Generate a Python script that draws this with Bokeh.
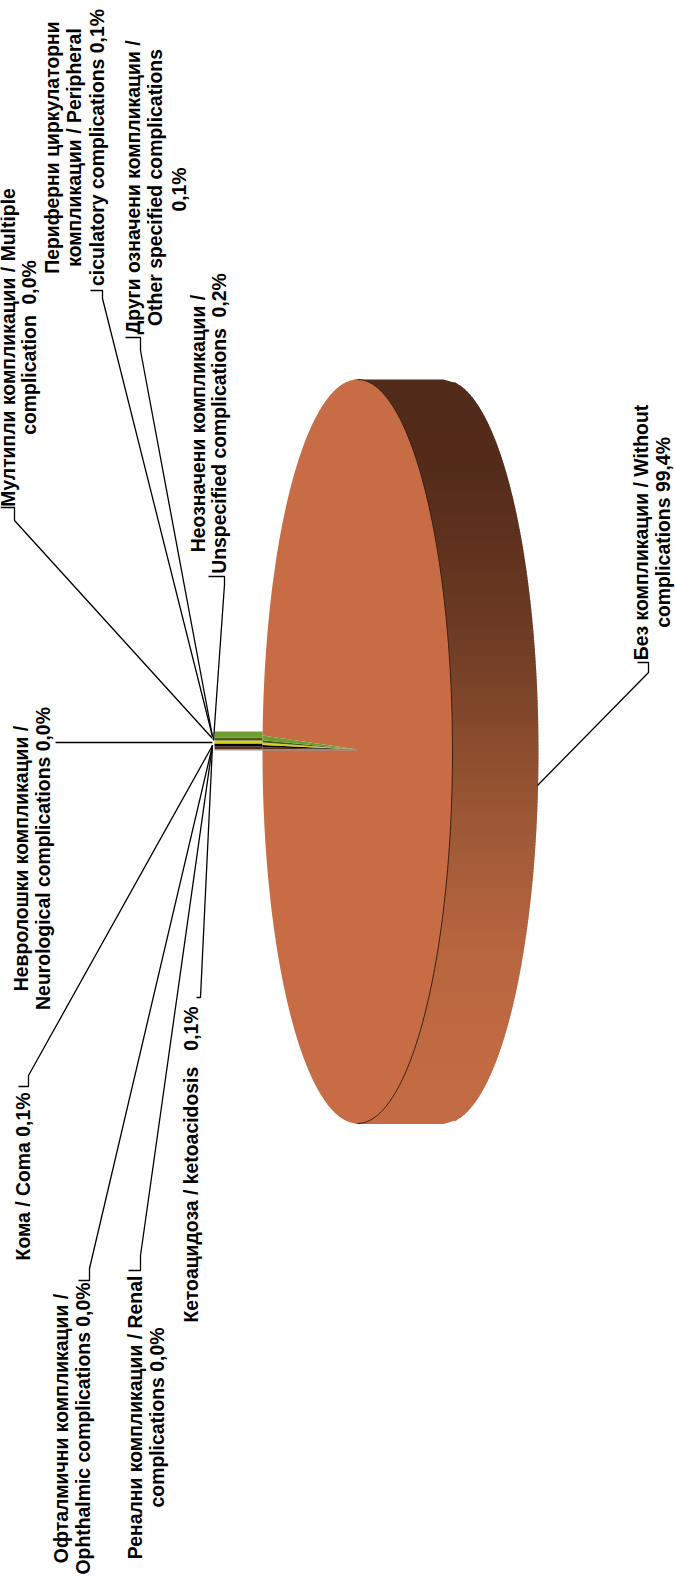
import numpy as np
from bokeh.plotting import figure
from bokeh.embed import file_html
from bokeh.resources import INLINE
from bokeh.models import Range1d
from bokeh.core.properties import value

# slice order runs from the top of the notch downwards, the big slice last
slice_names = ["Неозначени", "Други", "Периферни", "Мултипли", "Неврологичен", "Кома", "Офталмични", "Ренални", "Кетоацидоза", "Без компликации"]
slice_values = [0.2, 0.1, 0.1, 0.0, 0.0, 0.1, 0.0, 0.0, 0.1, 99.4]
slice_colors = ["#6f9e30", "#4a5a1c", "#d8d020", "#3a3a10", "#202020", "#050505", "#101010", "#151008", "#5a2e18", "#c76c44"]

NB = "\u00a0"
label_lines = [
    ["Мултипли компликации / Multiple", f"complication {NB}0,0%"],
    ["Периферни циркулаторни", "компликации / Peripheral", "ciculatory complications 0,1%"],
    ["Други означени компликации /", "Other specified complications", "0,1%"],
    ["Неозначени компликации /", f"Unspecified complications {NB}0,2%"],
    ["Невролошки компликации /", "Neurological complications 0,0%"],
    ["Кома / Coma 0,1%"],
    ["Офталмични компликации /", "Ophthalmic complications 0,0%"],
    ["Ренални компликации / Renal", "complications 0,0%"],
    [f"Кетоацидоза / ketoacidosis {NB}{NB}0,1%"],
    ["Без компликации / Without", "complications 99,4%"],
]
label_x = [[7, 28], [51, 73, 96], [132, 154, 178], [197, 218], [20, 42], [22], [60, 82], [134, 156], [190], [640, 662]]
label_y = [[347, 347], [147, 147, 147], [187, 187, 189], [423, 423], [858, 858], [1176], [1428, 1428], [1417, 1417], [1164], [532, 532]]

leader_x = [[0, 14, 14, 212], [90, 102, 102, 212], [125, 140, 140, 212], [208, 224, 224, 213], [55, 212], [18, 28, 28, 212], [78, 89, 89, 212], [128, 140, 140, 212], [196, 200, 212], [637, 648, 648, 537]]
leader_y = [[507, 507, 520, 738], [290, 290, 298, 736], [337, 337, 350, 736], [576, 576, 584, 740], [742, 742], [1086, 1086, 1075, 745], [1280, 1280, 1268, 745], [1270, 1270, 1255, 745], [997, 997, 745], [662, 662, 672, 785]]

# geometry of the 3D disc on the page
cx, cy, rx, ry = 357.0, 751.0, 95.0, 372.0
depth = 86.0
notch_depth = 48.0
start_deg = 0.3

side_stops_y = [379, 470, 560, 650, 750, 850, 950, 1040, 1123]
side_stops_c = [(0x53, 0x2b, 0x1a), (0x55, 0x2c, 0x1b), (0x62, 0x34, 0x20), (0x72, 0x3e, 0x26), (0x8c, 0x4e, 0x2f), (0xa4, 0x5c, 0x38), (0xb8, 0x66, 0x40), (0xc0, 0x6a, 0x43), (0xc4, 0x6c, 0x45)]

p = figure(width=675, height=1576, output_backend="svg", toolbar_location=None,
           x_range=Range1d(0, 675), y_range=Range1d(1576, 0),
           min_border=0, min_border_left=0, min_border_right=0, min_border_top=0, min_border_bottom=0)
p.axis.visible = False
p.grid.visible = False
p.outline_line_color = None
p.background_fill_color = "white"


def rim(t):
    return cx - rx * np.cos(t), cy - ry * np.sin(t)


# gradient side wall, built from thin strips between front rim and back rim
edges = np.arange(cy - ry, cy + ry + 3, 3.0)
edges[-1] = min(edges[-1], cy + ry)
xs, ys, cols = [], [], []
for a, b in zip(edges[:-1], edges[1:]):
    half_a = rx * np.sqrt(max(0, 1 - ((a - cy) / ry) ** 2))
    half_b = rx * np.sqrt(max(0, 1 - ((b - cy) / ry) ** 2))
    xs.append([cx + half_a - 4, cx + half_a + depth, cx + half_b + depth, cx + half_b - 4])
    ys.append([a, a, b + 0.5, b + 0.5])
    m = (a + b) / 2
    rgb = [int(np.interp(m, side_stops_y, [c[i] for c in side_stops_c])) for i in range(3)]
    cols.append("#%02x%02x%02x" % tuple(rgb))
p.patches(xs, ys, fill_color=cols, line_color=None)

# slices from the values
total = sum(slice_values)
small = slice_values[:-1][::-1]
small_colors = slice_colors[:-1][::-1]
small_total = sum(small)
tip_y = cy - 2

# big slice: everything except the notch
big_start = np.radians(start_deg) + small_total / total * 2 * np.pi
big_end = np.radians(start_deg) + 2 * np.pi
t = np.linspace(big_start, big_end, 360)
bx, by = rim(t)
p.patch(list(bx) + [cx], list(by) + [tip_y], fill_color=slice_colors[-1], line_color=None)

# rim line between front face and side wall
arc = np.linspace(-np.pi / 2, np.pi / 2, 200)
p.line(cx + rx * np.cos(arc), cy + ry * np.sin(arc), line_color="#3a2010", line_width=1)

# the thin slices and their inner wall seen through the notch
wall_top, wall_bot = 731.0, 749.0
cum = np.radians(start_deg)
wall_pos = wall_bot
x_base, y_base = rim(cum)
for v, c in zip(small, small_colors):
    if v <= 0:
        continue
    nxt = cum + v / total * 2 * np.pi
    x0, y0 = rim(cum)
    x1, y1 = rim(nxt)
    p.patch([cx, x0, x1], [tip_y, y0, y1], fill_color=c, line_color=None)
    wall_next = wall_pos - v / small_total * (wall_bot - wall_top)
    p.quad(left=[x0 - notch_depth], right=[x0], top=[wall_next], bottom=[wall_pos], fill_color=c, line_color=None)
    cum = nxt
    wall_pos = wall_next
p.line([x_base - notch_depth, x_base, cx], [wall_bot + 0.5, y_base + 0.5, tip_y + 0.5], line_color="#9a9a9a", line_width=1)

# leader lines
for lx, ly in zip(leader_x, leader_y):
    p.line(lx, ly, line_color="black", line_width=1.3)

# labels
for lines, xs_, ys_ in zip(label_lines, label_x, label_y):
    p.text(x=xs_, y=ys_, text=lines, angle=np.pi / 2, text_align="center", text_baseline="middle",
           text_font=value("Liberation Sans"), text_font_style="bold", text_font_size="19.4px", text_color="black")

open("out.html", "w").write(file_html(p, INLINE))
